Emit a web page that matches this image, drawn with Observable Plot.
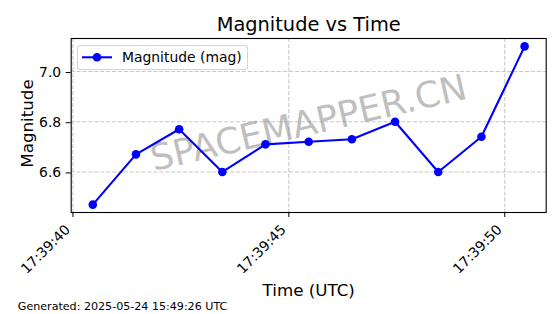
<!DOCTYPE html>
<html><head><meta charset="utf-8">
<script src="https://cdn.jsdelivr.net/npm/d3@7"></script>
<script src="https://cdn.jsdelivr.net/npm/@observablehq/plot@0.6"></script>
<style>
body{margin:0;background:#fff;}
#chart{position:relative;width:560px;height:314px;font-family:"DejaVu Sans",sans-serif;}
#legend{position:absolute;left:77px;top:45px;width:169px;height:23px;border:1px solid rgba(204,204,204,0.85);border-radius:3px;background:rgba(255,255,255,0.8);}
</style></head><body><div id="chart"></div>
<script>
const times = ["17:39:40.460","17:39:41.460","17:39:42.460","17:39:43.460","17:39:44.460","17:39:45.460","17:39:46.460","17:39:47.460","17:39:48.460","17:39:49.460","17:39:50.460"];
const magnitudes = [6.47, 6.67, 6.77, 6.60, 6.71, 6.72, 6.73, 6.80, 6.60, 6.74, 7.10];
const xTickLabels = ["17:39:40","17:39:45","17:39:50"];
const yTicks = [6.6, 6.8, 7.0];
const seriesName = "Magnitude (mag)";
const titleText = "Magnitude vs Time";
const xLabel = "Time (UTC)";
const yLabel = "Magnitude";
const footerText = "Generated: 2025-05-24 15:49:26 UTC";
const watermark = "SPACEMAPPER.CN";

const parseT = d3.utcParse("%H:%M:%S.%L");
const parseTick = d3.utcParse("%H:%M:%S");
const fmt = d3.utcFormat("%H:%M:%S");
const data = times.map((t, i) => ({t: parseT(t), m: magnitudes[i]}));
const xTicks = xTickLabels.map(parseTick);

function padded(ext) { const p = (ext[1] - ext[0]) * 0.05; return [ext[0] - p, ext[1] + p]; }
const tExt = d3.extent(data, d => +d.t);
const xDomain = padded(tExt).map(v => new Date(v));
const yDomain = padded(d3.extent(magnitudes));

const FONT = "DejaVu Sans";
const plot = Plot.plot({
  width: 560, height: 314,
  marginLeft: 70.7, marginRight: 14.3, marginTop: 38, marginBottom: 102,
  style: {fontFamily: FONT, background: "white", overflow: "visible"},
  x: {type: "utc", domain: xDomain},
  y: {domain: yDomain},
  marks: [
    Plot.gridX(xTicks, {stroke: "#b0b0b0", strokeOpacity: 0.7, strokeWidth: 1.1, strokeDasharray: "4.1,1.8"}),
    Plot.gridY(yTicks, {stroke: "#b0b0b0", strokeOpacity: 0.7, strokeWidth: 1.1, strokeDasharray: "4.1,1.8"}),
    Plot.text([watermark], {frameAnchor: "middle", text: d => d, rotate: -13, fontSize: 36, fill: "gray", fillOpacity: 0.5, dy: -2}),
    Plot.line(data, {x: "t", y: "m", stroke: "#0000ff", strokeWidth: 2.1}),
    Plot.dot(data, {x: "t", y: "m", fill: "#0000ff", r: 4.3}),
    Plot.frame({stroke: "black", strokeWidth: 1.1}),
    Plot.axisY(yTicks, {tickSize: 5, tickPadding: 5, tickFormat: d3.format(".1f"), fontSize: 13.9, fill: "black", stroke: "black", label: null, dy: 1}),
    Plot.axisX(xTicks, {tickSize: 5, tickFormat: () => "", label: null, stroke: "black"}),
    Plot.text(xTicks, {x: d => d, text: d => fmt(d), frameAnchor: "bottom", dy: 18, dx: -2, rotate: -45, textAnchor: "end", lineAnchor: "bottom", fontSize: 13.9, fill: "black"}),
    Plot.text([titleText], {text: d => d, frameAnchor: "top", dy: -8, lineAnchor: "bottom", fontSize: 19.4, fill: "black"}),
    Plot.text([xLabel], {text: d => d, frameAnchor: "bottom", dy: 83, lineAnchor: "bottom", fontSize: 16.7, fill: "black"}),
    Plot.text([yLabel], {text: d => d, frameAnchor: "left", dx: -38, dy: -2, rotate: -90, textAnchor: "middle", lineAnchor: "bottom", fontSize: 16.7, fill: "black"}),
    Plot.text([footerText], {text: d => d, frameAnchor: "bottom-left", dx: -53.4, dy: 97.3, textAnchor: "start", lineAnchor: "bottom", fontSize: 11.1, fill: "black"})
  ]
});
const chart = document.getElementById("chart");
chart.appendChild(plot);

// legend
const leg = d3.select(chart).append("div").attr("id", "legend");
const ls = leg.append("svg").attr("width", 169).attr("height", 23).style("display", "block");
ls.append("line").attr("x1", 4).attr("x2", 34).attr("y1", 11.3).attr("y2", 11.3).attr("stroke", "#0000ff").attr("stroke-width", 2.1);
ls.append("circle").attr("cx", 19).attr("cy", 11.3).attr("r", 4.3).attr("fill", "#0000ff");
ls.append("text").attr("x", 44).attr("y", 16.3).attr("font-family", FONT).attr("font-size", 13.9).attr("fill", "black").text(seriesName);
</script>
</body></html>
